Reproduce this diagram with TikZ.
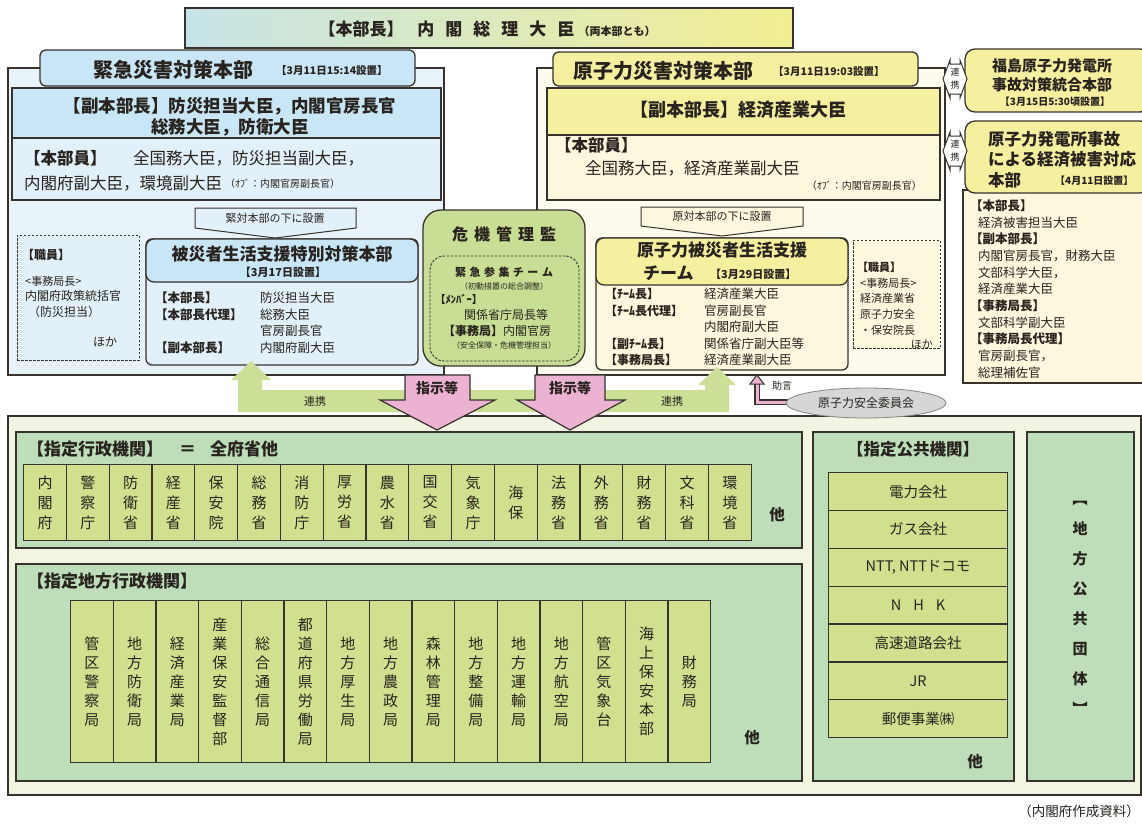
\documentclass[tikz,border=0pt]{standalone}
\usepackage{fontspec}
\setmainfont{Noto Sans CJK JP}
\usetikzlibrary{shapes.geometric}
\newcommand{\fsz}[1]{\fontsize{#1}{#1}\selectfont}
\newcommand{\fszb}[2]{\fontsize{#1}{#2}\selectfont}
\newcommand{\BX}[6]{\node[#1,anchor=north west,minimum width=#5pt,minimum height=#6pt,inner sep=0pt,outer sep=0pt] (#2) at (#3,#4) {};}
\definecolor{topL}{RGB}{198,228,232}
\definecolor{topM}{RGB}{214,232,200}
\definecolor{topR}{RGB}{242,238,145}
\definecolor{bluehdr}{RGB}{200,230,246}
\definecolor{bluebody}{RGB}{226,241,249}
\definecolor{blueouter}{RGB}{232,243,249}
\definecolor{yelhdr}{RGB}{245,240,160}
\definecolor{yelbody}{RGB}{252,248,222}
\definecolor{yelouter}{RGB}{253,251,237}
\definecolor{kgreen}{RGB}{200,222,148}
\definecolor{bandgreen}{RGB}{203,224,150}
\definecolor{pinkc}{RGB}{236,178,210}
\definecolor{botbg}{RGB}{242,245,226}
\definecolor{midgreen}{RGB}{190,222,186}
\definecolor{cellc}{RGB}{208,224,142}
\definecolor{grayc}{RGB}{214,214,214}
\definecolor{bordc}{RGB}{55,50,45}
\definecolor{textc}{RGB}{40,35,30}
\begin{document}
\begin{tikzpicture}[x=1pt,y=-1pt,
  bd/.style={draw=bordc,line width=1.3pt},
  tx/.style={inner sep=0pt,text=textc},
  dsh/.style={draw=bordc,line width=0.9pt,dash pattern=on 2.5pt off 1.5pt},
  cellst/.style={bd,fill=cellc,line width=1.2pt,align=center,inner sep=0pt,text=textc}]
\clip (0,0) rectangle (1142,823);
\fill[white] (0,0) rectangle (1142,823);
% top bar
\BX{bd,left color=topL,middle color=topM,right color=topR}{topbar}{185}{8}{608}{40}
\node[tx] (toptext) at (487,29) {\fsz{17}\bfseries 【本部長】\hspace{14pt}内\hspace{11pt}閣\hspace{11pt}総\hspace{11pt}理\hspace{11pt}大\hspace{11pt}臣\hspace{4pt}{\fsz{11}（両本部とも）}};
% ===== left block
\BX{bd,fill=blueouter}{leftouter}{8}{68}{436}{307}
\BX{bd,fill=bluehdr,rounded corners=6pt}{ltab}{40}{50}{375}{36}
\node[tx] (ltabt) at (173,70) {\fsz{20}\bfseries 緊急災害対策本部};
\node[tx,anchor=west] (ltabd) at (276,71) {\fsz{10.5}\bfseries 【3月11日15:14設置】};
\BX{bd,fill=bluehdr}{lvice}{12}{88}{429}{50}
\node[tx,align=center,font=\fszb{17.5}{21}\bfseries] (lvicet) at (230,117) {【副本部長】防災担当大臣，内閣官房長官\\ 総務大臣，防衛大臣};
\BX{bd,fill=bluebody}{lmem}{12}{138}{429}{62}
\node[tx,anchor=west] (lmem1) at (24,158) {\fsz{16.5}\bfseries 【本部員】};
\node[tx,anchor=west] (lmem2) at (133,158) {\fsz{16.5}全国務大臣，防災担当副大臣，};
\node[tx,anchor=west] (lmem3) at (24,183) {\fsz{16.5}内閣府副大臣，環境副大臣};
\node[tx,anchor=west] (lmem4) at (225,184) {\fsz{10}（ｵﾌﾞ：内閣官房副長官）};
\draw[bd,line width=1pt,fill=bluebody] (195,208) -- (356,208) -- (356,228) -- (275,238) -- (195,228) -- cycle;
\coordinate (lcall) at (275,238);
\node[tx] (lcallt) at (275,218) {\fsz{11}緊対本部の下に設置};
\BX{dsh,fill=bluebody}{lstaff}{17}{235}{122}{125}
\node[tx,anchor=west] (ls1) at (22,255) {\fsz{12}\bfseries 【職員】};
\node[tx,anchor=west] (ls2) at (25,281) {\fsz{11}<事務局長>};
\node[tx,anchor=west] (ls3) at (25,296) {\fsz{12}内閣府政策統括官};
\node[tx,anchor=west] (ls4) at (28,312) {\fsz{12}（防災担当）};
\node[tx,anchor=west] (ls5) at (93,342) {\fsz{12}ほか};
\BX{bd,fill=bluebody,rounded corners=6pt}{lsup}{146}{239}{272}{126}
\BX{bd,fill=bluehdr,rounded corners=8pt}{lsuph}{146}{239}{272}{43}
\node[tx] (lsupt) at (282,254) {\fsz{17}\bfseries 被災者生活支援特別対策本部};
\node[tx] (lsupd) at (283,272) {\fsz{11}\bfseries 【3月17日設置】};
\node[tx,anchor=west] (lsa1) at (155,298) {\fsz{12.5}\bfseries 【本部長】};
\node[tx,anchor=west] (lsb1) at (260,298) {\fsz{12.5}防災担当大臣};
\node[tx,anchor=west] (lsa2) at (155,315) {\fsz{12.5}\bfseries 【本部長代理】};
\node[tx,anchor=west] (lsb2) at (260,315) {\fsz{12.5}総務大臣};
\node[tx,anchor=west] (lsb3) at (260,331) {\fsz{12.5}官房副長官};
\node[tx,anchor=west] (lsa4) at (155,348) {\fsz{12.5}\bfseries 【副本部長】};
\node[tx,anchor=west] (lsb4) at (260,348) {\fsz{12.5}内閣府副大臣};
% ===== right block
\BX{bd,fill=yelouter}{rightouter}{537}{68}{408}{307}
\BX{bd,fill=yelhdr,rounded corners=6pt}{rtab}{553}{52}{365}{34}
\node[tx] (rtabt) at (663,71) {\fsz{20}\bfseries 原子力災害対策本部};
\node[tx,anchor=west] (rtabd) at (773,72) {\fsz{10.5}\bfseries 【3月11日19:03設置】};
\BX{bd,fill=yelhdr}{rvice}{547}{88}{393}{47}
\node[tx] (rvicet) at (738,110) {\fsz{18}\bfseries 【副本部長】経済産業大臣};
\BX{bd,fill=yelbody}{rmem}{547}{135}{393}{65}
\node[tx,anchor=west] (rmem1) at (555,145) {\fsz{16.5}\bfseries 【本部員】};
\node[tx,anchor=west] (rmem2) at (585,168) {\fsz{16.5}全国務大臣，経済産業副大臣};
\node[tx,anchor=east] (rmem3) at (922,186) {\fsz{10}（ｵﾌﾞ：内閣官房副長官）};
\draw[bd,line width=1pt,fill=yelbody] (641,207) -- (803,207) -- (803,226) -- (722,236) -- (641,226) -- cycle;
\coordinate (rcall) at (722,236);
\node[tx] (rcallt) at (722,216) {\fsz{11}原対本部の下に設置};
\BX{bd,fill=yelbody,rounded corners=6pt}{rsup}{596}{238}{252}{132}
\BX{bd,fill=yelhdr,rounded corners=8pt}{rsuph}{596}{238}{252}{47}
\node[tx] (rsupt) at (722,250) {\fsz{17}\bfseries 原子力被災者生活支援};
\node[tx,anchor=west] (rsupt2) at (643,273) {\fsz{17}\bfseries チーム};
\node[tx,anchor=west] (rsupd) at (710,274) {\fsz{11}\bfseries 【3月29日設置】};
\node[tx,anchor=west] (rsa1) at (605,294) {\fsz{12}\bfseries 【ﾁｰﾑ長】};
\node[tx,anchor=west] (rsb1) at (704,294) {\fsz{12.5}経済産業大臣};
\node[tx,anchor=west] (rsa2) at (605,311) {\fsz{12}\bfseries 【ﾁｰﾑ長代理】};
\node[tx,anchor=west] (rsb2) at (704,311) {\fsz{12.5}官房副長官};
\node[tx,anchor=west] (rsb3) at (704,327) {\fsz{12.5}内閣府副大臣};
\node[tx,anchor=west] (rsa4) at (605,344) {\fsz{12}\bfseries 【副ﾁｰﾑ長】};
\node[tx,anchor=west] (rsb4) at (704,344) {\fsz{12.5}関係省庁副大臣等};
\node[tx,anchor=west] (rsa5) at (605,360) {\fsz{12}\bfseries 【事務局長】};
\node[tx,anchor=west] (rsb5) at (704,360) {\fsz{12.5}経済産業副大臣};
\BX{dsh,fill=yelbody}{rstaff}{853}{240}{87}{108}
\node[tx,anchor=west] (rs1) at (857,267) {\fsz{11}\bfseries 【職員】};
\node[tx,anchor=west] (rs2) at (860,283) {\fsz{11}<事務局長>};
\node[tx,anchor=west] (rs3) at (860,298) {\fsz{11}経済産業省};
\node[tx,anchor=west] (rs4) at (860,314) {\fsz{11}原子力安全};
\node[tx,anchor=west] (rs5) at (860,330) {\fsz{11}・保安院長};
\node[tx,anchor=east] (rs6) at (933,344) {\fsz{11}ほか};
% ===== crisis manager
\BX{bd,fill=kgreen,rounded corners=18pt}{crisis}{423}{210}{162}{156}
\node[tx] (crt) at (504,234) {\fsz{16}\bfseries 危\hspace{6pt}機\hspace{6pt}管\hspace{6pt}理\hspace{6pt}監};
\BX{dsh,rounded corners=14pt}{crin}{430}{256}{149}{105}
\node[tx] (cr1) at (504,272) {\fsz{11}\bfseries 緊\hspace{3.5pt}急\hspace{3.5pt}参\hspace{3.5pt}集\hspace{3.5pt}チ\hspace{3.5pt}ー\hspace{3.5pt}ム};
\node[tx] (cr2) at (504,286) {\fsz{8}（初動措置の総合調整）};
\node[tx,anchor=west] (cr3) at (435,299) {\fsz{10.5}\bfseries 【ﾒﾝﾊﾞｰ】};
\node[tx] (cr4) at (506,315) {\fsz{12}関係省庁局長等};
\node[tx] (cr5) at (497,331) {\fsz{12}\bfseries 【事務局】{\mdseries 内閣官房}};
\node[tx] (cr6) at (504,345) {\fsz{8}（安全保障・危機管理担当）};
% ===== far right
\BX{bd,fill=yelhdr,rounded corners=10pt}{fuku}{965}{49}{185}{63}
\node[tx] (fk1) at (1052,66) {\fsz{15}\bfseries 福島原子力発電所};
\node[tx] (fk2) at (1052,85) {\fsz{15}\bfseries 事故対策統合本部};
\node[tx] (fk3) at (1055,102) {\fsz{10}\bfseries 【3月15日5:30頃設置】};
\BX{bd,fill=yelbody}{econb}{963}{190}{187}{193}
\BX{bd,fill=yelhdr,rounded corners=10pt}{econh}{965}{121}{185}{72}
\node[tx,anchor=west] (ec1) at (988,139) {\fsz{16.5}\bfseries 原子力発電所事故};
\node[tx,anchor=west] (ec2) at (988,159) {\fsz{16.5}\bfseries による経済被害対応};
\node[tx,anchor=west] (ec3) at (988,180) {\fsz{16.5}\bfseries 本部};
\node[tx,anchor=west] (ec4) at (1055,181) {\fsz{10}\bfseries 【4月11日設置】};
\node[tx,anchor=west] (eb1) at (970,206) {\fsz{12.5}\bfseries 【本部長】};
\node[tx,anchor=west] (eb2) at (978,223) {\fsz{12.5}経済被害担当大臣};
\node[tx,anchor=west] (eb3) at (970,239) {\fsz{12.5}\bfseries 【副本部長】};
\node[tx,anchor=west] (eb4) at (978,256) {\fsz{12.5}内閣官房長官，財務大臣};
\node[tx,anchor=west] (eb5) at (978,273) {\fsz{12.5}文部科学大臣，};
\node[tx,anchor=west] (eb6) at (978,289) {\fsz{12.5}経済産業大臣};
\node[tx,anchor=west] (eb7) at (970,306) {\fsz{12.5}\bfseries 【事務局長】};
\node[tx,anchor=west] (eb8) at (978,323) {\fsz{12.5}文部科学副大臣};
\node[tx,anchor=west] (eb9) at (970,339) {\fsz{12.5}\bfseries 【事務局長代理】};
\node[tx,anchor=west] (eb10) at (978,356) {\fsz{12.5}官房副長官，};
\node[tx,anchor=west] (eb11) at (978,373) {\fsz{12.5}総理補佐官};
% liaison double arrows
\draw[bd,line width=1pt,fill=white] (943,79) -- (950,60) -- (950,64) -- (960,64) -- (960,60) -- (967,79) -- (960,98) -- (960,94) -- (950,94) -- (950,98) -- cycle;
\node[tx,align=center,font=\fszb{9}{13}] (lia1) at (955,79) {連\\携};
\draw[bd,line width=1pt,fill=white] (943,151) -- (950,132) -- (950,136) -- (960,136) -- (960,132) -- (967,151) -- (960,170) -- (960,166) -- (950,166) -- (950,170) -- cycle;
\node[tx,align=center,font=\fszb{9}{13}] (lia2) at (955,151) {連\\携};
% ===== bottom block
\BX{bd,fill=botbg}{bottom}{8}{416}{1133}{379}
\BX{bd,fill=midgreen}{gyosei}{16}{432}{786}{116}
\node[tx,anchor=west] (gyt) at (27,449) {\fsz{17}\bfseries 【指定行政機関】\hspace{16pt}＝\hspace{14pt}全府省他};
\foreach \lab [count=\i] in {内\\閣\\府,警\\察\\庁,防\\衛\\省,経\\産\\省,保\\安\\院,総\\務\\省,消\\防\\庁,厚\\労\\省,農\\水\\省,国\\交\\省,気\\象\\庁,海\\保,法\\務\\省,外\\務\\省,財\\務\\省,文\\科\\省,環\\境\\省}
  \node[cellst,anchor=north west,minimum width=42.8pt,minimum height=76pt,font=\fszb{15}{20}] (ga\i) at ({23+(\i-1)*42.8},464) {\lab};
\node[tx] (gyo) at (777,515) {\fsz{15.5}\bfseries 他};
\BX{bd,fill=midgreen}{chiho}{16}{564}{786}{217}
\node[tx,anchor=west] (cht) at (27,581) {\fsz{17}\bfseries 【指定地方行政機関】};
\foreach \lab [count=\i] in {管\\区\\警\\察\\局,地\\方\\防\\衛\\局,経\\済\\産\\業\\局,産\\業\\保\\安\\監\\督\\部,総\\合\\通\\信\\局,都\\道\\府\\県\\労\\働\\局,地\\方\\厚\\生\\局,地\\方\\農\\政\\局,森\\林\\管\\理\\局,地\\方\\整\\備\\局,地\\方\\運\\輸\\局,地\\方\\航\\空\\局,管\\区\\気\\象\\台,海\\上\\保\\安\\本\\部,財\\務\\局}
  \node[cellst,anchor=north west,minimum width=42.67pt,minimum height=162pt,font=\fszb{15}{19}] (gb\i) at ({70+(\i-1)*42.67},600) {\lab};
\node[tx] (cho) at (752,738) {\fsz{15.5}\bfseries 他};
\BX{bd,fill=midgreen}{kokyo}{813}{432}{201}{349}
\node[tx] (kkt) at (913,449) {\fsz{16.5}\bfseries 【指定公共機関】};
\foreach \lab [count=\i] in {電力会社,ガス会社,{NTT, NTTドコモ},N\hspace{12pt}H\hspace{12pt}K,高速道路会社,JR,郵便事業㈱}
  \node[cellst,anchor=north west,minimum width=179pt,minimum height=37.86pt,font=\fsz{14.5}] (pb\i) at (828,{472+(\i-1)*37.86}) {\lab};
\node[tx] (kko) at (975,762) {\fsz{15.5}\bfseries 他};
\BX{bd,fill=midgreen}{chikodantai}{1027}{432}{107}{349}
\node[tx,align=center,font=\fszb{15}{30}\bfseries] (lpg) at (1080,608) {︻\\地\\方\\公\\共\\団\\体\\︼};
% ===== green liaison band
\fill[bandgreen] (238,412) -- (238,380) -- (231,380) -- (251,361) -- (271,380) -- (262,380) -- (262,390) -- (705,390) -- (705,385) -- (698,385) -- (717,367) -- (736,385) -- (729,385) -- (729,412) -- cycle;
\coordinate (bandL) at (251,361);
\coordinate (bandR) at (717,367);
\node[tx] (bd1) at (315,401) {\fsz{11}連携};
\node[tx] (bd2) at (672,401) {\fsz{11}連携};
% ===== pink arrows
\draw[bd,line width=1.2pt,fill=pinkc] (405,375) -- (470,375) -- (470,400) -- (495,400) -- (437,430) -- (380,400) -- (405,400) -- cycle;
\node[tx] (pk1) at (437,388) {\fsz{14}\bfseries 指示等};
\draw[bd,line width=1.2pt,fill=pinkc] (535,375) -- (605,375) -- (605,400) -- (625,400) -- (570,430) -- (517,400) -- (535,400) -- cycle;
\node[tx] (pk2) at (570,388) {\fsz{14}\bfseries 指示等};
% ===== advice arrow and NSC
\coordinate (advS) at (805,402);
\coordinate (advC) at (757,402);
\coordinate (advE) at (757,382);
\draw[bordc,line width=5.5pt] (advS) -- (advC) -- (advE);
\draw[pinkc,line width=3pt] ([xshift=1pt]advS) -- (advC) -- (advE);
\draw[bordc,line width=1pt,fill=pinkc] (750,384) -- (757,375) -- (764,384) -- cycle;
\node[tx] (adv) at (782,386) {\fsz{10}助言};
\node[ellipse,draw=bordc!60,line width=0.8pt,fill=grayc,minimum width=160pt,minimum height=30pt,inner sep=0pt,text=textc] (nsc) at (866,403) {\fsz{12}原子力安全委員会};
% footer
\node[tx,anchor=east] (foot) at (1140,811) {\fsz{13.5}（内閣府作成資料）};
\end{tikzpicture}
\end{document}
